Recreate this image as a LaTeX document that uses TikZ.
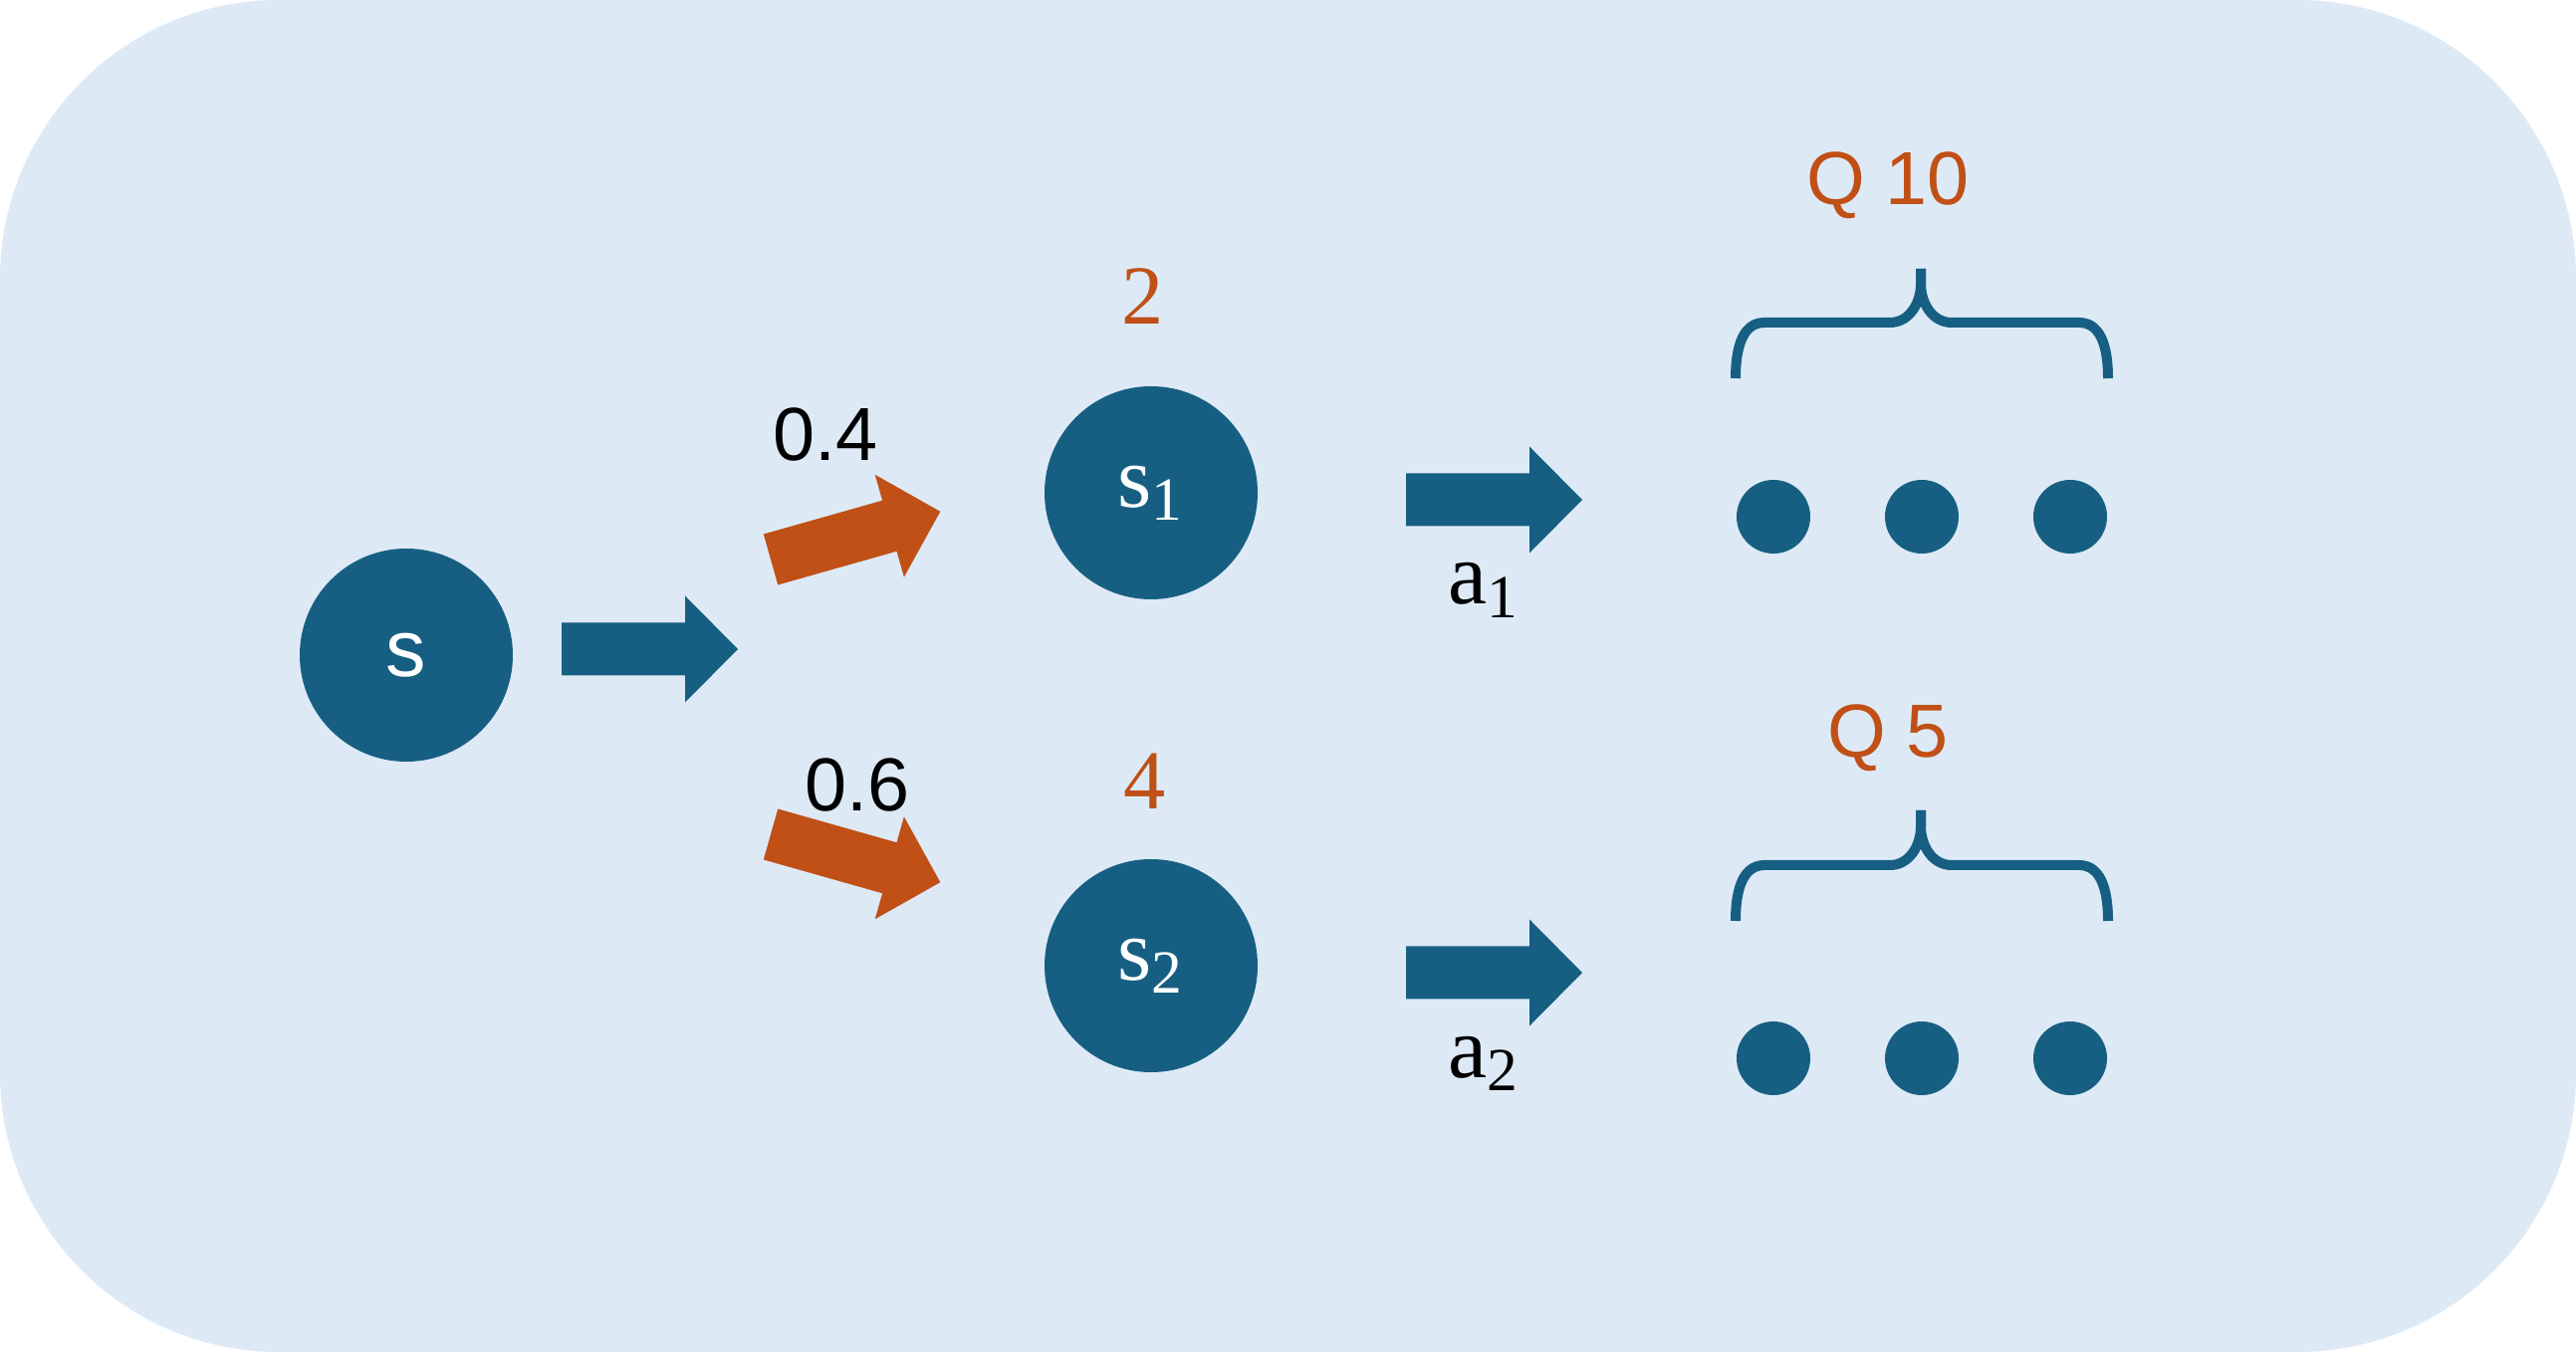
\documentclass[tikz,border=0pt]{standalone}
\usepackage{fontspec}
\setmainfont{Liberation Serif}
\newfontfamily\labelfont{Liberation Sans}
\usetikzlibrary{positioning}

\definecolor{qbg}{RGB}{221,234,246}
\definecolor{qblue}{RGB}{23,95,130}
\definecolor{qorange}{RGB}{192,80,22}

\tikzset{
  state/.style={circle, fill=qblue, text=white, minimum size=2.14cm,
                inner sep=0pt, font=\fontsize{25}{30}\selectfont},
  dot/.style={circle, fill=qblue, minimum size=0.74cm, inner sep=0pt},
  brace/.style={draw=qblue, line width=0.1cm},
  sanslabel/.style={inner sep=0pt, anchor=base,
                    font=\labelfont\fontsize{21.5}{26}\selectfont},
  reward/.style={inner sep=0pt, anchor=base, text=qorange,
                 font=\fontsize{24}{28}\selectfont},
  action/.style={inner sep=0pt, anchor=base west,
                 font=\fontsize{25}{30}\selectfont},
  blockarrow/.pic={
    \fill (0,-0.265) -- (1.24,-0.265) -- (1.24,-0.535) -- (1.77,0)
      -- (1.24,0.535) -- (1.24,0.265) -- (0,0.265) -- cycle;
  },
}

\begin{document}
\begin{tikzpicture}
  \useasboundingbox (0,0) rectangle (25.87,-13.58);
  \fill[white] (0,0) rectangle (25.87,-13.58);
  \fill[qbg, rounded corners=2.8cm] (0,0) rectangle (25.87,-13.58);

  % states
  \node[state] (s)  at (4.08,-6.58)  {\labelfont\fontsize{23}{28}\selectfont s};
  \node[state] (s1) at (11.56,-4.95) {$\mathrm{s}_{\mathrm{1}}$};
  \node[state] (s2) at (11.56,-9.70) {$\mathrm{s}_{\mathrm{2}}$};

  % block arrows
  \pic[qblue] at (5.64,-6.52) {blockarrow};
  \pic[qorange, rotate=15.8]  at (7.74,-5.62) {blockarrow};
  \pic[qorange, rotate=-15.8] at (7.74,-8.38) {blockarrow};
  \pic[qblue] at (14.12,-5.02) {blockarrow};
  \pic[qblue] at (14.12,-9.77) {blockarrow};

  % transition probabilities
  \node[sanslabel] (p1) at (8.29,-4.63) {0.4};
  \node[sanslabel] (p2) at (8.61,-8.15) {0.6};

  % rewards
  \node[reward] (r1) at (11.48,-3.26) {2};
  \node[reward] (r2) at (11.50,-8.13) {4};

  % actions
  \node[action] (a1) at (14.54,-6.07)  {$\mathrm{a}_{\mathrm{1}}$};
  \node[action] (a2) at (14.54,-10.82) {$\mathrm{a}_{\mathrm{2}}$};

  % Q values
  \node[sanslabel, text=qorange] (q1) at (18.96,-2.06) {Q 10};
  \node[sanslabel, text=qorange] (q2) at (18.96,-7.61) {Q 5};

  % braces
  \draw[brace] (17.43,-3.80) to[out=90,in=180] (17.72,-3.24) -- (18.98,-3.24)
    to[out=0,in=-90] (19.29,-2.85) -- (19.29,-2.70);
  \draw[brace] (21.17,-3.80) to[out=90,in=0] (20.88,-3.24) -- (19.60,-3.24)
    to[out=180,in=-90] (19.29,-2.85) -- (19.29,-2.70);
  \draw[brace] (17.43,-9.25) to[out=90,in=180] (17.72,-8.69) -- (18.98,-8.69)
    to[out=0,in=-90] (19.29,-8.30) -- (19.29,-8.14);
  \draw[brace] (21.17,-9.25) to[out=90,in=0] (20.88,-8.69) -- (19.60,-8.69)
    to[out=180,in=-90] (19.29,-8.30) -- (19.29,-8.14);

  % next states
  \node[dot] (d11) at (17.81,-5.19)  {};
  \node[dot] (d12) at (19.30,-5.19)  {};
  \node[dot] (d13) at (20.79,-5.19)  {};
  \node[dot] (d21) at (17.81,-10.63) {};
  \node[dot] (d22) at (19.30,-10.63) {};
  \node[dot] (d23) at (20.79,-10.63) {};
\end{tikzpicture}
\end{document}
